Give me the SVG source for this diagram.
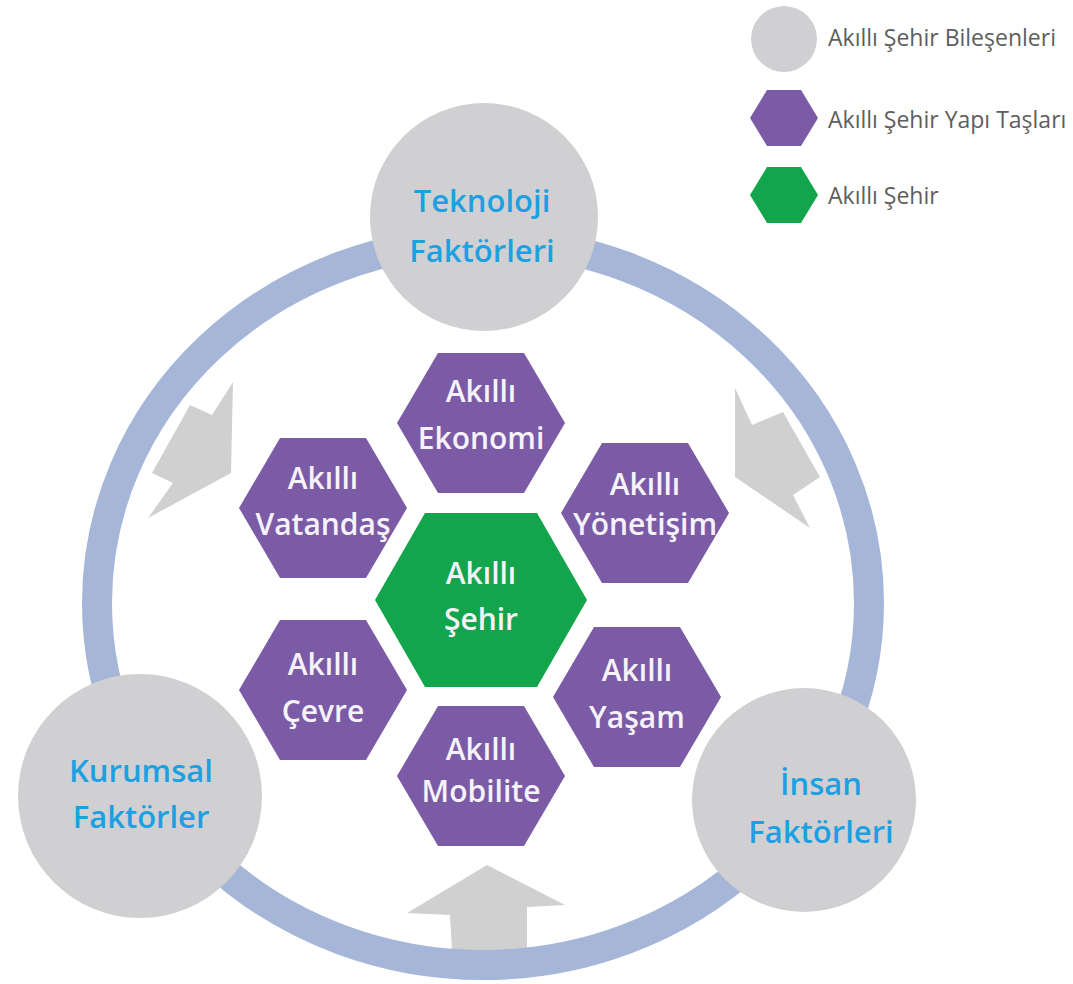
<svg xmlns="http://www.w3.org/2000/svg" xmlns:xlink="http://www.w3.org/1999/xlink" width="1073" height="984" viewBox="0 0 1073 984">
  <style>
    .ring { fill: none; stroke: #A5B6D9; stroke-width: 30; }
    .arrow { fill: #D0D0D0; }
    .comp { fill: #D0D0D2; }
    .blk { fill: #7B5BA5; }
    .city { fill: #13A54B; }
    .ctext { font-family: "Open Sans", "Liberation Sans", sans-serif; font-weight: 600; font-size: 31px; fill: #1DA0E1; text-anchor: middle; }
    .htext { font-family: "Open Sans", "Liberation Sans", sans-serif; font-weight: 600; font-size: 30px; fill: #F6F2FA; text-anchor: middle; }
    .ltext { font-family: "Open Sans", "Liberation Sans", sans-serif; font-weight: 400; font-size: 23px; fill: #5E5E5E; }
  </style>
  <defs>
    <polygon id="hexP" points="-84,0 -43,-70 43,-70 84,0 43,70 -43,70"/>
    <polygon id="hexG" points="-106,0 -56,-87 56,-87 106,0 56,87 -56,87"/>
    <polygon id="hexL" points="-34,0 -17,-28 17,-28 34,0 17,28 -17,28"/>
  </defs>
  <rect width="1073" height="984" fill="#FFFFFF"/>

  <g id="connectors">
    <polygon class="arrow" points="190,405 212,415 233,382 231,473 148,518 173,483 152,473"/>
    <polygon class="arrow" points="735,388 752,425 783,412 820,477 793,495 810,528 735,477"/>
    <polygon class="arrow" points="487,865 565,905 527,907 527,968 453,968 450,915 407,913"/>
    <ellipse class="ring" cx="483" cy="603" rx="386" ry="362"/>
  </g>

  <g id="tech">
    <circle class="comp" cx="484" cy="217" r="114"/>
    <text class="ctext" x="482" y="212">Teknoloji</text>
    <text class="ctext" x="482" y="262">Faktörleri</text>
  </g>
  <g id="kurumsal">
    <circle class="comp" cx="140" cy="796" r="122"/>
    <text class="ctext" x="141" y="782">Kurumsal</text>
    <text class="ctext" x="141" y="828">Faktörler</text>
  </g>
  <g id="insan">
    <circle class="comp" cx="804" cy="800" r="112"/>
    <text class="ctext" x="821" y="795">İnsan</text>
    <text class="ctext" x="821" y="843">Faktörleri</text>
  </g>

  <g id="ekonomi">
    <use xlink:href="#hexP" class="blk" x="481" y="423"/>
    <text class="htext" x="481" y="402">Akıllı</text>
    <text class="htext" x="481" y="449">Ekonomi</text>
  </g>
  <g id="vatandas">
    <use xlink:href="#hexP" class="blk" x="323" y="508"/>
    <text class="htext" x="323" y="489">Akıllı</text>
    <text class="htext" x="323" y="535">Vatandaş</text>
  </g>
  <g id="yonetisim">
    <use xlink:href="#hexP" class="blk" x="645" y="513"/>
    <text class="htext" x="645" y="495">Akıllı</text>
    <text class="htext" x="645" y="535">Yönetişim</text>
  </g>
  <g id="sehir">
    <use xlink:href="#hexG" class="city" x="481" y="600"/>
    <text class="htext" x="481" y="584">Akıllı</text>
    <text class="htext" x="481" y="630">Şehir</text>
  </g>
  <g id="cevre">
    <use xlink:href="#hexP" class="blk" x="323" y="690"/>
    <text class="htext" x="323" y="675">Akıllı</text>
    <text class="htext" x="323" y="722">Çevre</text>
  </g>
  <g id="yasam">
    <use xlink:href="#hexP" class="blk" x="637" y="697"/>
    <text class="htext" x="637" y="681">Akıllı</text>
    <text class="htext" x="637" y="728">Yaşam</text>
  </g>
  <g id="mobilite">
    <use xlink:href="#hexP" class="blk" x="481" y="776"/>
    <text class="htext" x="481" y="760">Akıllı</text>
    <text class="htext" x="481" y="802">Mobilite</text>
  </g>

  <g id="legend">
    <circle class="comp" cx="784" cy="39" r="33"/>
    <text class="ltext" x="828" y="46">Akıllı Şehir Bileşenleri</text>
    <use xlink:href="#hexL" class="blk" x="784" y="118"/>
    <text class="ltext" x="828" y="128">Akıllı Şehir Yapı Taşları</text>
    <use xlink:href="#hexL" class="city" x="784" y="195"/>
    <text class="ltext" x="828" y="204">Akıllı Şehir</text>
  </g>
</svg>
